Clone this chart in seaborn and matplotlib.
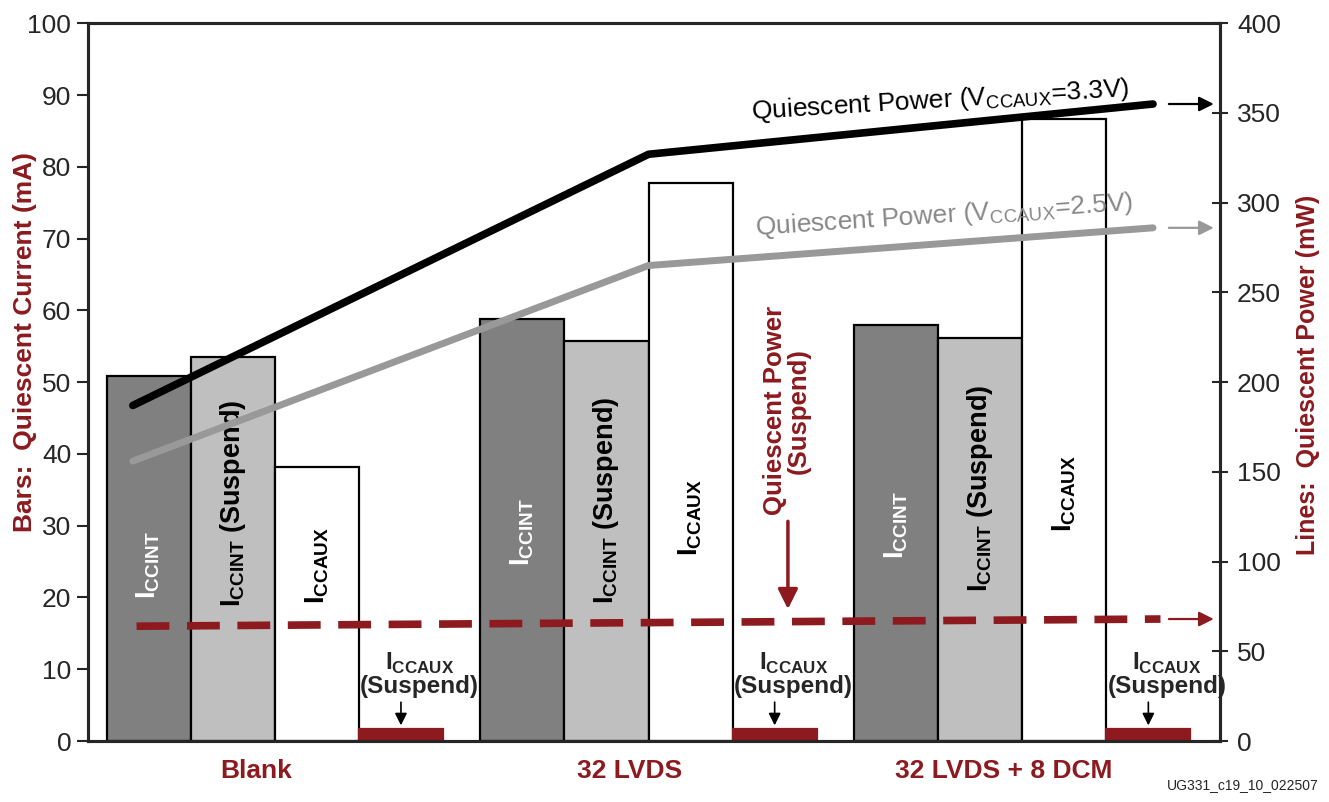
import pandas as pd
import seaborn as sns
import matplotlib.pyplot as plt

# Bar data (mA)
configs = ["Blank", "32 LVDS", "32 LVDS + 8 DCM"]
components = ["ICCINT", "ICCINT (Suspend)", "ICCAUX", "ICCAUX (Suspend)"]
iccint = [50.8, 58.8, 57.9]
iccint_susp = [53.5, 55.8, 56.2]
iccaux = [38.2, 77.8, 86.6]
iccaux_susp = [1.7, 1.7, 1.7]

# Line data (mW)
line_x = [-0.38, 1.0, 2.35]
power_33 = [187, 327, 355]
power_25 = [156, 265, 286]
power_susp = [64, 66, 68]

# labels inside bars: text and vertical centre (mA)
bar_text = [r"I$_{\mathbf{CCINT}}$", r"I$_{\mathbf{CCINT}}$ (Suspend)", r"I$_{\mathbf{CCAUX}}$"]
bar_text_y = [[24.5, 33.1, 24.4], [29.1, 33.6, 31.2], [30.1, 35.2, 34.5]]

RED = "#8c1a1e"
bar_colors = ["#808080", "#bfbfbf", "#ffffff", RED]

sns.set_style("white")
plt.rcParams["font.family"] = ["Liberation Sans", "DejaVu Sans"]
plt.rcParams["mathtext.fontset"] = "custom"
plt.rcParams["mathtext.rm"] = "Liberation Sans"
plt.rcParams["mathtext.bf"] = "Liberation Sans:bold"

df = pd.DataFrame({
    "config": configs * 4,
    "component": sum([[c] * 3 for c in components], []),
    "current": iccint + iccint_susp + iccaux + iccaux_susp,
})

fig = plt.figure(figsize=(13.29, 8.02), dpi=100)
ax = fig.add_axes([0.0662, 0.076, 0.852, 0.895])

sns.barplot(data=df, x="config", y="current", hue="component", hue_order=components,
            palette=bar_colors, saturation=1, width=0.9, edgecolor="black", linewidth=1.6,
            legend=False, ax=ax)
for p in ax.containers[3]:
    p.set_edgecolor(RED)

ax.set_ylim(0, 100)
ax.set_xlim(-0.5, 2.53)
ax.set_yticks(range(0, 101, 10))
ax.tick_params(axis="y", labelsize=19, length=8, width=1.5, direction="out", pad=4)
ax.set_xticks([i - 0.05 for i in range(3)])
ax.set_xticklabels(configs, fontsize=19, fontweight="bold", color=RED)
ax.tick_params(axis="x", length=0, pad=13)
ax.set_xticks([0.5, 1.5], minor=True)
ax.tick_params(axis="x", which="minor", length=10, width=0.8, direction="inout")
ax.set_xlabel("")
ax.set_ylabel("Bars:  Quiescent Current (mA)", fontsize=19, fontweight="bold", color=RED)
ax.yaxis.set_label_coords(-0.045, 0.556)
for s in ax.spines.values():
    s.set_linewidth(2.2)
    s.set_color("black")

# text inside bars
offsets = [-1.5, -0.5, 0.5]
for g in range(3):
    for k in range(3):
        ax.text(g + offsets[k] * 0.225, bar_text_y[g][k], bar_text[k], rotation=90,
                ha="center", va="center", fontsize=19.5, fontweight="bold",
                color="white" if k == 0 else "black")
    bx = g + 1.5 * 0.225
    ax.annotate("", xy=(bx, 1.8), xytext=(bx, 5.8),
                arrowprops=dict(arrowstyle="-|>", color="black", lw=1.2, mutation_scale=18))
    ax.text(bx + 0.05, 6.0, "I$_{\\mathbf{CCAUX}}$\n(Suspend)", ha="center", va="bottom",
            fontsize=17.5, fontweight="bold", linespacing=0.95)

# power lines on right axis
ax2 = ax.twinx()
sns.lineplot(x=line_x, y=power_33, color="black", lw=5.5, ax=ax2, solid_capstyle="round")
sns.lineplot(x=line_x, y=power_25, color="#999999", lw=5, ax=ax2, solid_capstyle="round")
sns.lineplot(x=[line_x[0] + 0.01, 1.0, line_x[-1] + 0.02], y=power_susp, color=RED, lw=5.5,
             ax=ax2, dashes=(4.3, 2.3))
ax2.set_ylim(0, 400)
ax2.set_yticks(range(0, 401, 50))
ax2.tick_params(axis="y", labelsize=19, length=12, width=1.5, direction="inout", pad=6)
ax2.set_ylabel("Lines:  Quiescent Power (mW)", fontsize=18, fontweight="bold", color=RED)
ax2.yaxis.set_label_coords(1.067, 0.51)
ax2.set_xlim(-0.5, 2.53)
for s in ax2.spines.values():
    s.set_linewidth(2.2)

# arrows to the right axis
for y, c in [(power_33[-1], "black"), (power_25[-1], "#999999"), (power_susp[-1], RED)]:
    ax2.annotate("", xy=(2.52, y), xytext=(2.385, y),
                 arrowprops=dict(arrowstyle="-|>", color=c, lw=1.6, mutation_scale=22))

ax2.text(1.78, 357, r"Quiescent Power (V$_{\mathregular{CCAUX}}$=3.3V)", rotation=3.5,
         rotation_mode="anchor", ha="center", va="center", fontsize=19, color="black")
ax2.text(1.79, 293, r"Quiescent Power (V$_{\mathregular{CCAUX}}$=2.5V)", rotation=3.8,
         rotation_mode="anchor", ha="center", va="center", fontsize=19, color="#888888")

# suspend power callout
ax2.text(1.37, 184, "Quiescent Power\n(Suspend)", rotation=90, ha="center", va="center",
         fontsize=18.5, fontweight="bold", color=RED, linespacing=1.0)
ax2.annotate("", xy=(1.373, 72), xytext=(1.373, 124),
             arrowprops=dict(arrowstyle="-|>", color=RED, lw=2.5, mutation_scale=30))

fig.text(0.992, 0.012, "UG331_c19_10_022507", ha="right", va="bottom", fontsize=10)

fig.savefig("out.png", dpi=100)
